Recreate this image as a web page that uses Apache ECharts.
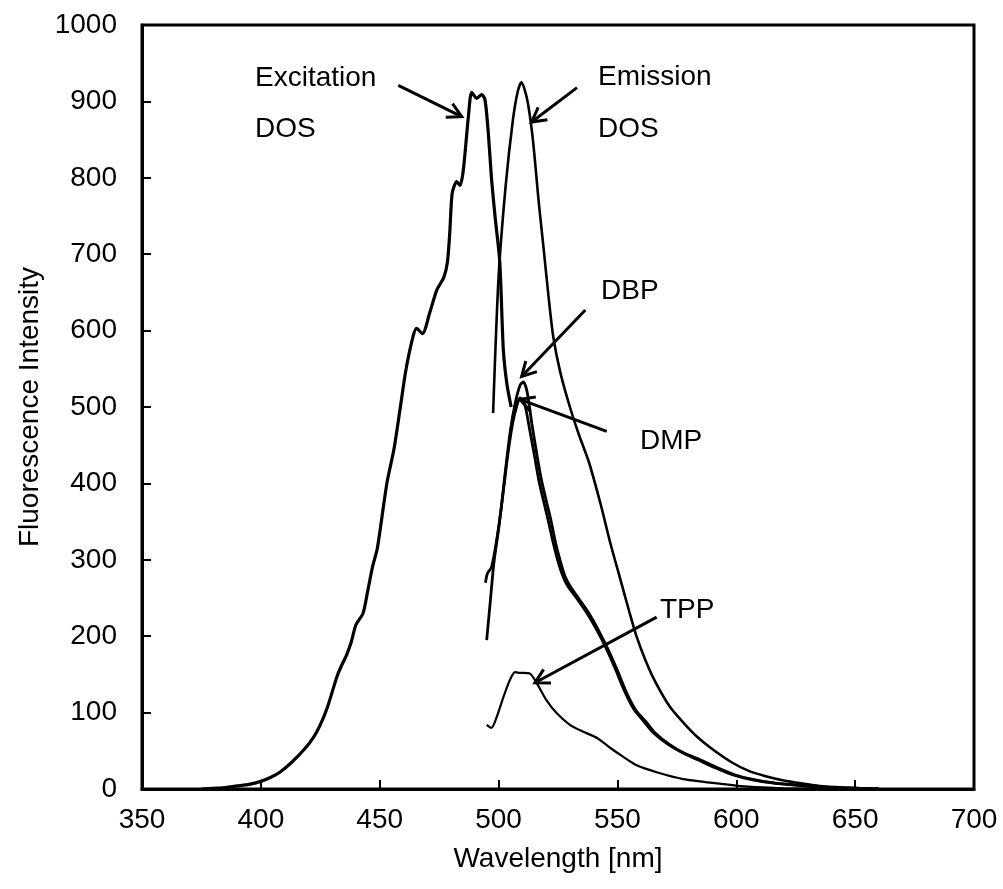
<!DOCTYPE html>
<html>
<head>
<meta charset="utf-8">
<script src="https://cdn.jsdelivr.net/npm/echarts@6/dist/echarts.min.js"></script>
<style>
html,body{margin:0;padding:0;background:#fff;}
#chart{width:1003px;height:889px;}
</style>
</head>
<body>
<div id="chart"></div>
<script>
// ---- data (wavelength nm, intensity) ----
var excitationDOS = [
  [375,0],[380,1],[385,2],[390,4],[395,6],[400,10],[404,15],[408,22],[413,35],[418,51],
  [422,67],[425,84],[428,107],[432,147],[434,162],[436,175],[438,192],[440,215],[443,230],
  [445,260],[447,291],[449,315],[453,400],[456,445],[458.5,496],[461,548],[464,592],
  [465.5,603],[468,596],[471,623],[474,653],[477,670],[478.5,690],[479.5,730],[480.5,780],
  [482.4,795],[483.8,790],[485,806],[486,836],[487.3,880],[488.7,912],[490.8,904],
  [492.9,909],[494.3,902],[495.7,858],[497,800],[498.5,750],[500.5,690],[502,575],
  [503.5,530],[505.3,500]
];
var emissionDOS = [
  [497.7,492],[500,670],[503,790],[506,875],[508,912],[509.6,925],[511,915],[512.5,895],
  [514.5,848],[517,765],[519,706],[521,645],[523,592],[526,545],[530,500],[534,462],
  [538,428],[543,372],[547,322],[551,277],[555,232],[558,200],[562,167],[566,140],
  [572,108],[578,86],[584,67],[590,52],[598,35],[605,24],[612,17],[620,11],[628,7],
  [635,4],[645,2],[660,0]
];
var dbp = [
  [494.5,270],[495.3,282],[497,290],[499,322],[501,365],[503,420],[505,470],[507,505],
  [509,528],[510.4,533],[512,520],[514,478],[516,440],[518,405],[520,378],[522,352],
  [524,322],[526,298],[528,278],[530,266],[534,248],[538,230],[542,208],[546,183],
  [550,155],[554,125],[558,102],[562,88],[566,73],[572,58],[578,47],[585,38],[592,28],
  [600,18],[608,12],[616,8],[626,5],[638,2],[650,1],[660,0]
];
var dmp = [
  [495,195],[496.5,245],[498,295],[500,340],[502,390],[504,440],[506,480],[508,505],
  [509,512],[511,503],[513,472],[515,438],[517,403],[519,376],[521,350],[523,322],
  [525,298],[527,279],[529,266],[533,249],[537,231],[541,210],[545,186],[549,158],
  [553,128],[557,104],[561,89],[565,74],[571,59],[577,48],[584,38],[591,28],[599,18],
  [607,12],[615,8],[625,5],[637,2],[650,1],[660,0]
];
var tpp = [
  [495,84],[497,80],[499.2,94],[502,120],[504.8,143],[506.9,153],[508.5,152],[510.4,152],
  [513.2,151],[516,139],[520.2,116],[524.5,99],[530,84],[535.6,75],[541.3,67],[546.9,54],
  [552.5,42],[558.1,31],[566.5,22],[577.7,13],[593,7],[605,3],[620,1],[640,0]
];
// arrows: [fromX, fromY, toX(tip), toY(tip)]
var arrows = [
  [457.8,921,484.5,880],
  [533,918,513.9,873],
  [536.5,627,509.7,540],
  [545.5,468,509,510],
  [566.5,225,515.3,139]
];
var xTicks = {min:350, max:700, interval:50};
var yTicks = {min:0, max:1000, interval:100};

var FONT = 'Liberation Sans, Arial, sans-serif';
var FS = 28;
var chart = echarts.init(document.getElementById('chart'));

function lineSeries(name, data, w){
  return {name:name, type:'line', data:data, showSymbol:false, symbol:'none',
    smooth:0.25, lineStyle:{color:'#000', width:w}, z:3, animation:false};
}

var option = {
  animation:false,
  backgroundColor:'#fff',
  grid:{left:142, right:29, top:25, bottom:100, show:true, borderColor:'#000', borderWidth:3, backgroundColor:'transparent'},
  xAxis:{type:'value', min:xTicks.min, max:xTicks.max, interval:xTicks.interval,
    name:'Wavelength [nm]', nameLocation:'middle', nameGap:56,
    nameTextStyle:{fontFamily:FONT, fontSize:FS, color:'#000'},
    axisLine:{show:true, lineStyle:{color:'#000', width:3}},
    axisTick:{show:true, inside:true, length:9, lineStyle:{color:'#000', width:2}},
    axisLabel:{fontFamily:FONT, fontSize:FS, color:'#000', margin:17, formatter:function(v){return String(v);}},
    splitLine:{show:false}},
  yAxis:{type:'value', min:yTicks.min, max:yTicks.max, interval:yTicks.interval,
    name:'Fluorescence Intensity', nameLocation:'middle', nameGap:84, nameRotate:90,
    nameTextStyle:{fontFamily:FONT, fontSize:FS, color:'#000'},
    axisLine:{show:true, lineStyle:{color:'#000', width:3}},
    axisTick:{show:true, inside:true, length:9, lineStyle:{color:'#000', width:2}},
    axisLabel:{fontFamily:FONT, fontSize:FS, color:'#000', margin:25, formatter:function(v){return String(v);}},
    splitLine:{show:false}},
  series:[
    lineSeries('Excitation DOS', excitationDOS, 3.2),
    lineSeries('Emission DOS', emissionDOS, 2.6),
    lineSeries('DBP', dbp, 2.8),
    lineSeries('DMP', dmp, 2.8),
    lineSeries('TPP', tpp, 2.2),
    {type:'custom', name:'arrows', data:arrows, encode:{x:[0,2], y:[1,3]}, clip:false, z:4,
     renderItem:function(params, api){
       var p1 = api.coord([api.value(0), api.value(1)]);
       var p2 = api.coord([api.value(2), api.value(3)]);
       var ang = Math.atan2(p2[1]-p1[1], p2[0]-p1[0]);
       var L = 16, a = 0.5;
       var h1 = [p2[0]-L*Math.cos(ang-a), p2[1]-L*Math.sin(ang-a)];
       var h2 = [p2[0]-L*Math.cos(ang+a), p2[1]-L*Math.sin(ang+a)];
       var st = {stroke:'#000', lineWidth:3, fill:null};
       return {type:'group', children:[
         {type:'line', shape:{x1:p1[0],y1:p1[1],x2:p2[0],y2:p2[1]}, style:st},
         {type:'polyline', shape:{points:[h1,p2,h2]}, style:st}
       ]};
     }}
  ],
  graphic:[
    {type:'text', left:255, top:64, style:{text:'Excitation', font:FS+'px '+FONT, fill:'#000'}},
    {type:'text', left:255, top:115, style:{text:'DOS', font:FS+'px '+FONT, fill:'#000'}},
    {type:'text', left:598, top:63, style:{text:'Emission', font:FS+'px '+FONT, fill:'#000'}},
    {type:'text', left:598, top:115, style:{text:'DOS', font:FS+'px '+FONT, fill:'#000'}},
    {type:'text', left:601, top:277, style:{text:'DBP', font:FS+'px '+FONT, fill:'#000'}},
    {type:'text', left:640, top:427, style:{text:'DMP', font:FS+'px '+FONT, fill:'#000'}},
    {type:'text', left:660, top:596, style:{text:'TPP', font:FS+'px '+FONT, fill:'#000'}}
  ]
};
chart.setOption(option);
</script>
</body>
</html>
